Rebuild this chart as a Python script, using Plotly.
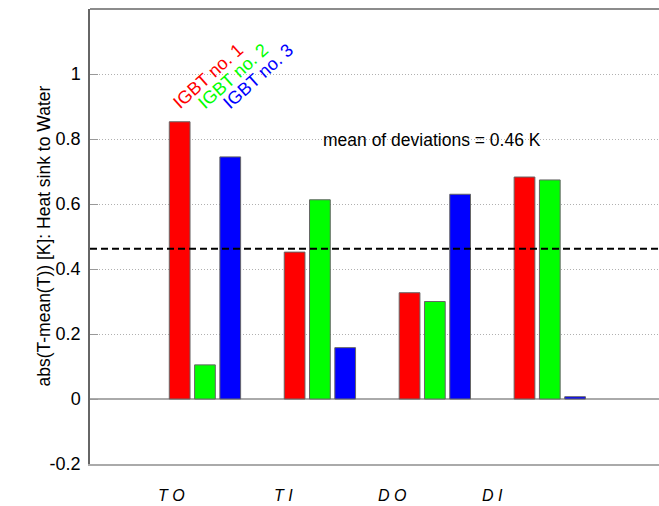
import plotly.graph_objects as go

# Deviation of each IGBT from the group mean, per measurement position
positions = [1, 2, 3, 4]
position_labels = ["T O", "T I", "D O", "D I"]
label_x = [0.71, 1.68, 2.63, 3.50]

igbt_names = ["IGBT no. 1", "IGBT no. 2", "IGBT no. 3"]
igbt_colors = ["#ff0000", "#00ff00", "#0000ff"]
igbt1 = [0.853, 0.452, 0.327, 0.683]
igbt2 = [0.105, 0.613, 0.300, 0.674]
igbt3 = [0.745, 0.158, 0.630, 0.007]

series = [igbt1, igbt2, igbt3]
all_vals = [v for s in series for v in s]
mean_dev = sum(all_vals) / len(all_vals)

FONT = "Liberation Sans, Arial, sans-serif"

fig = go.Figure()
for name, color, vals in zip(igbt_names, igbt_colors, series):
    fig.add_trace(go.Bar(
        x=positions, y=vals, name=name,
        marker=dict(color=color, line=dict(color="#666666", width=1)),
    ))

# mean deviation line
fig.add_shape(type="line", xref="paper", x0=0, x1=1, yref="y",
              y0=mean_dev, y1=mean_dev,
              line=dict(color="black", width=2, dash="7px,4px"))
# top border
fig.add_shape(type="line", xref="paper", x0=0, x1=1, yref="paper",
              y0=1, y1=1, line=dict(color="#666666", width=1.5))

annotations = []
# rotated series labels above the first group
bar_offsets = [-0.22, 0.0, 0.22]
for name, color, off in zip(igbt_names, igbt_colors, bar_offsets):
    annotations.append(dict(
        x=positions[0] + off - 0.115, y=0.872, xref="x", yref="y",
        text=name, showarrow=False, textangle=-42,
        xanchor="left", yanchor="bottom",
        font=dict(family=FONT, size=18, color=color),
    ))

annotations.append(dict(
    x=2.006, y=0.797, xref="x", yref="y",
    text=f"mean of deviations = {mean_dev:.2f} K", showarrow=False,
    xanchor="left", yanchor="middle",
    font=dict(family=FONT, size=17.5, color="black"),
))

for lx, lab in zip(label_x, position_labels):
    annotations.append(dict(
        x=lx, y=0, xref="x", yref="paper", yshift=-31,
        text=f"<i>{lab}</i>", showarrow=False,
        xanchor="center", yanchor="middle",
        font=dict(family=FONT, size=16, color="black"),
    ))

annotations.append(dict(
    x=0, y=0.5, xref="paper", yref="paper", xshift=-47,
    text="abs(T-mean(T)) [K]: Heat sink to Water", showarrow=False,
    textangle=-90, xanchor="center", yanchor="middle",
    font=dict(family=FONT, size=17.5, color="black"),
))

fig.update_layout(
    width=659, height=506,
    margin=dict(l=90, r=0, t=9, b=42),
    paper_bgcolor="white", plot_bgcolor="white",
    barmode="group", bargap=0.34, bargroupgap=0.18,
    showlegend=False,
    annotations=annotations,
    xaxis=dict(range=[0, 4.95], showticklabels=False, ticks="",
               showgrid=False, zeroline=False,
               showline=True, linecolor="#aaaaaa", linewidth=2),
    yaxis=dict(range=[-0.2, 1.2], tickvals=[-0.2, 0, 0.2, 0.4, 0.6, 0.8, 1],
               ticktext=["-0.2", "0", "0.2", "0.4", "0.6", "0.8", "1"],
               tickfont=dict(family=FONT, size=18, color="black"),
               ticks="inside", ticklen=8, tickcolor="#999999",
               showgrid=True, gridcolor="#b0b0b0", griddash="1px,2px", gridwidth=1,
               zeroline=True, zerolinecolor="#aaaaaa", zerolinewidth=2,
               showline=True, linecolor="#666666", linewidth=1.5,
               ticklabelstandoff=4),
)

fig.write_html("out.html")
